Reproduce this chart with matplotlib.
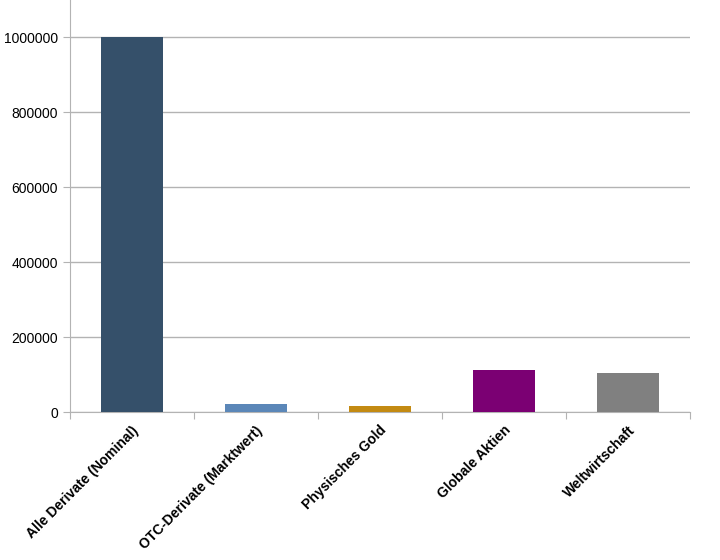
import matplotlib
matplotlib.use('Agg')
import matplotlib.pyplot as plt

categories = ['Alle Derivate (Nominal)', 'OTC-Derivate (Marktwert)', 'Physisches Gold',
              'Globale Aktien', 'Weltwirtschaft']
values = [1000000, 21000, 16000, 112000, 105000]
colors = ['#35506a', '#5b87b8', '#c38a12', '#7b0073', '#808080']

plt.rcParams['font.family'] = ['Liberation Sans', 'DejaVu Sans']
fig = plt.figure(figsize=(7.2, 5.6), dpi=100)
ax = fig.add_axes([0.097, 0.264, 0.861, 0.736])

ax.bar(range(len(values)), values, width=0.5, color=colors, zorder=3)
ax.set_xlim(-0.5, len(values) - 0.5)
ax.set_ylim(0, 1100000)
ax.set_yticks(range(0, 1000001, 200000))
ax.set_yticklabels([str(v) for v in range(0, 1000001, 200000)], fontsize=10)
ax.set_xticks([i - 0.5 for i in range(len(values) + 1)], minor=False)
ax.set_xticklabels([''] * (len(values) + 1))
ax.set_xticks(range(len(values)), minor=True)
ax.set_xticklabels(categories, minor=True, rotation=45, ha='right',
                   rotation_mode='anchor', fontsize=10, fontweight='bold')
ax.tick_params(axis='x', which='minor', length=0, pad=8)
ax.tick_params(axis='x', which='major', length=5, color='#b3b3b3')
ax.tick_params(axis='y', length=5, color='#b3b3b3')
ax.grid(axis='y', color='#b3b3b3', linewidth=1, zorder=0)
for s in ['top', 'right']:
    ax.spines[s].set_visible(False)
for s in ['left', 'bottom']:
    ax.spines[s].set_color('#b3b3b3')

fig.savefig('out.png', dpi=100)
